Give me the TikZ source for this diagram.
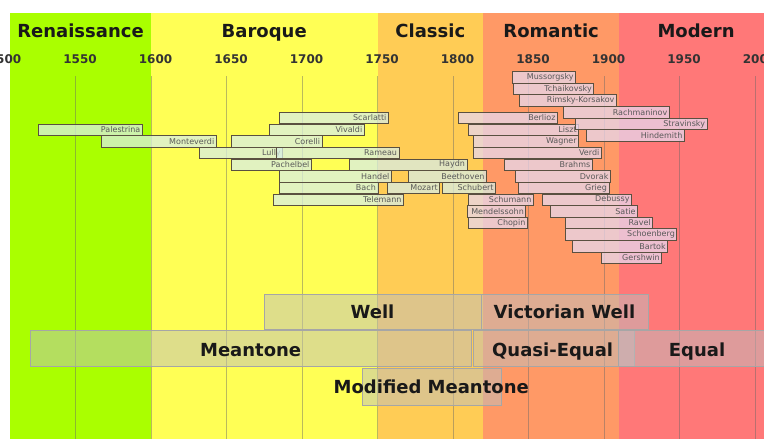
\documentclass[tikz,border=0pt]{standalone}
\usepackage{fontspec}
\setmainfont{DejaVu Sans}
\usepackage{tikz}

\definecolor{renaissance}{HTML}{AAFF00}
\definecolor{baroque}{HTML}{FFFF55}
\definecolor{classic}{HTML}{FFCC55}
\definecolor{romantic}{HTML}{FF9966}
\definecolor{modern}{HTML}{FF7878}
\definecolor{boxline}{HTML}{5A5040}
\definecolor{greenfill}{HTML}{D8EEE4}
\definecolor{pinkfill}{HTML}{E8D8EE}

\hyphenpenalty=10000
\exhyphenpenalty=10000

\tikzset{
  era/.style={anchor=base, text=black!90, font=\bfseries\fontsize{18}{20}\selectfont},
  year/.style={anchor=base, text=black!80, font=\bfseries\fontsize{12}{14}\selectfont},
  yearline/.style={draw=black!60, draw opacity=0.45, line width=0.6pt},
  band/.style={fill=black!25, fill opacity=0.5, draw=black!35, line width=0.5pt},
  bandlabel/.style={anchor=base, text=black!90, font=\bfseries\fontsize{18}{20}\selectfont},
  composer/.style={anchor=west, draw=boxline, line width=0.7pt, fill opacity=0.75, text opacity=1,
    minimum height=11.4pt, inner xsep=2pt, inner ysep=0pt, align=right, text=black!65,
    font=\fontsize{8}{9}\selectfont},
  oldbox/.style={composer, fill=greenfill},
  newbox/.style={composer, fill=pinkfill}
}

% box from birth to death, right-aligned name, row number
\newcommand{\composer}[5][oldbox]{%
  \pgfmathsetmacro{\cwidth}{(#4-#3)*1.51-4}%
  \node[#1, text width=\cwidth pt] (#2) at ({#3-1500},{118+11.65*(#5)}) {#2};%
}

\begin{document}
\begin{tikzpicture}[x=1.51pt, y=-1pt]
	\useasboundingbox (0pt,0pt) rectangle (764pt,-439pt);
	\clip (0pt,0pt) rectangle (764pt,-439pt);

	% periods
	\fill[renaissance] (6.6,13) rectangle (100,439);
	\fill[baroque] (100,13) rectangle (250,439);
	\fill[classic] (250,13) rectangle (320,439);
	\fill[romantic] (320,13) rectangle (410,439);
	\fill[modern] (410,13) rectangle (510,439);

	\node[era] (renaissance) at (53.3, 37) {Renaissance};
	\node[era] (baroque) at (175, 37) {Baroque};
	\node[era] (classic) at (285, 37) {Classic};
	\node[era] (romantic) at (365, 37) {Romantic};
	\node[era] (modern) at (461, 37) {Modern};

	% years
	\foreach \yr in {1500,1550,...,2000}
		\node[year] (y\yr) at ({\yr-1500+3}, 63) {\yr};
	\foreach \yr in {1550,1600,...,2000}
		\draw[yearline] ({\yr-1500}, 76) -- ({\yr-1500}, 439);

	% composers
	\composer{Palestrina}{1525}{1594}{1}
	\composer{Monteverdi}{1567}{1643}{2}
	\composer{Lully}{1632}{1687}{3}
	\composer{Pachelbel}{1653}{1706}{4}
	\composer{Corelli}{1653}{1713}{2}
	\composer{Vivaldi}{1678}{1741}{1}
	\composer{Scarlatti}{1685}{1757}{0}
	\composer{Rameau}{1683}{1764}{3}
	\composer{Handel}{1685}{1759}{5}
	\composer{Bach}{1685}{1750}{6}
	\composer{Telemann}{1681}{1767}{7}
	\composer{Haydn}{1731}{1809}{4}
	\composer{Mozart}{1756}{1791}{6}
	\composer{Beethoven}{1770}{1822}{5}
	\composer{Schubert}{1793}{1828}{6}
	\composer[newbox]{Schumann}{1810}{1853}{7}
	\composer[newbox]{Mendelssohn}{1809}{1848}{8}
	\composer[newbox]{Chopin}{1810}{1849}{9}
	\composer[newbox]{Berlioz}{1803}{1869}{0}
	\composer[newbox]{Liszt}{1810}{1883}{1}
	\composer[newbox]{Wagner}{1813}{1883}{2}
	\composer[newbox]{Verdi}{1813}{1898}{3}
	\composer[newbox]{Brahms}{1834}{1892}{4}
	\composer[newbox]{Dvorak}{1841}{1904}{5}
	\composer[newbox]{Grieg}{1843}{1903}{6}
	\composer[newbox]{Debussy}{1859}{1918}{7}
	\composer[newbox]{Satie}{1864}{1922}{8}
	\composer[newbox]{Ravel}{1874}{1932}{9}
	\composer[newbox]{Schoenberg}{1874}{1948}{10}
	\composer[newbox]{Bartok}{1879}{1942}{11}
	\composer[newbox]{Gershwin}{1898}{1938}{12}
	\composer[newbox]{Mussorgsky}{1839}{1881}{-3.5}
	\composer[newbox]{Tchaikovsky}{1840}{1893}{-2.5}
	\composer[newbox]{Rimsky-Korsakov}{1844}{1908}{-1.5}
	\composer[newbox]{Rachmaninov}{1873}{1943}{-0.5}
	\composer[newbox]{Stravinsky}{1881}{1968}{0.5}
	\composer[newbox]{Hindemith}{1888}{1953}{1.5}

	% temperaments
	\draw[band] (174.8,294) rectangle (318.5,329);
	\draw[band] (318.5,294) rectangle (429.1,329);
	\draw[band] (19.9,330) rectangle (311.9,366);
	\draw[band] (313.2,330) rectangle (419.9,366);
	\draw[band] (409.3,330) rectangle (520,366);
	\draw[band] (239.7,368) rectangle (331.8,405);

	\node[bandlabel] (well) at (246.7, 318) {Well};
	\node[bandlabel] (victorian) at (373.8, 318) {Victorian Well};
	\node[bandlabel] (meantone) at (166, 356) {Meantone};
	\node[bandlabel] (quasi) at (366, 356) {Quasi-Equal};
	\node[bandlabel] (equal) at (461.6, 356) {Equal};
	\node[bandlabel] (modified) at (285.6, 393) {Modified Meantone};
\end{tikzpicture}
\end{document}
